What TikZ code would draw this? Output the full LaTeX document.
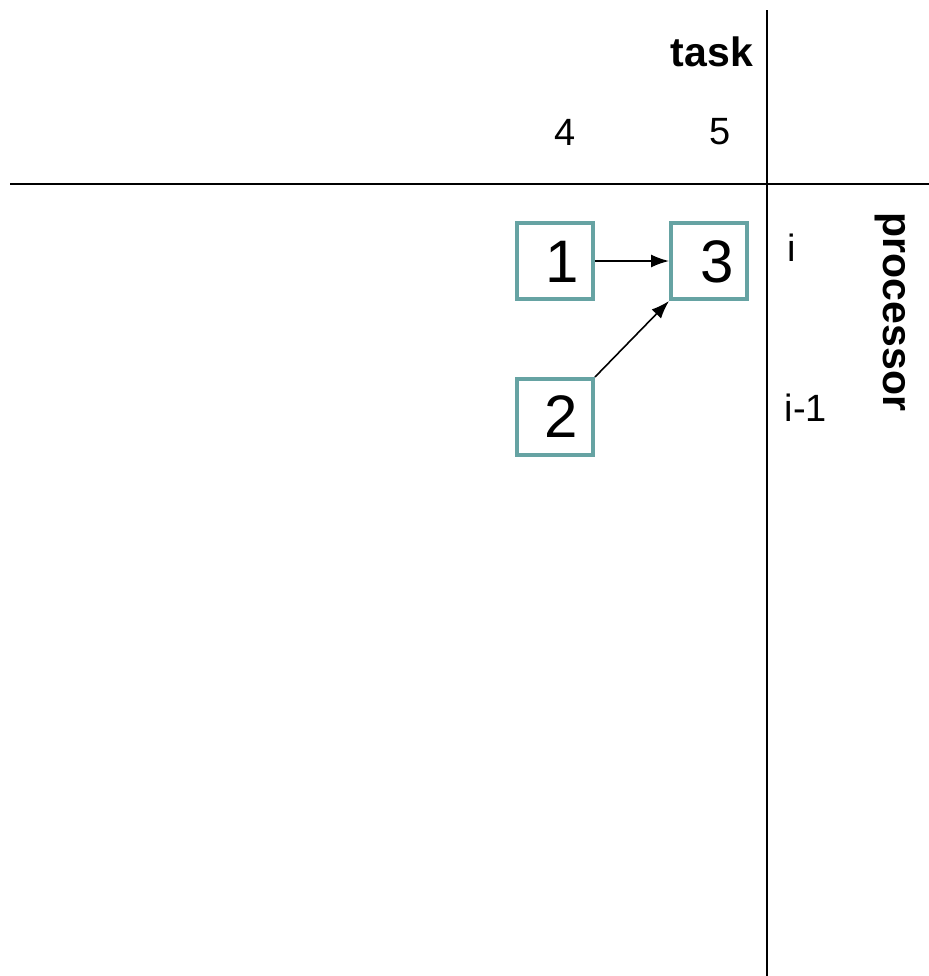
\documentclass[tikz,border=0pt]{standalone}
\usepackage{fontspec}
\setmainfont{Liberation Sans}
\usetikzlibrary{arrows.meta}
\definecolor{boxteal}{HTML}{66A3A3}
\begin{document}
\begin{tikzpicture}[x=0.5pt,y=-0.5pt,
  taskbox/.style={draw=boxteal,line width=2pt,minimum width=38pt,minimum height=38pt,inner sep=0pt},
  boxnum/.style={font=\fontsize{30}{30}\selectfont},
  axislabel/.style={font=\fontsize{19}{19}\selectfont},
  axistitle/.style={font=\bfseries\fontsize{20.5}{20.5}\selectfont},
  dep/.style={line width=0.8pt,-{Latex[length=9pt,width=6.5pt]}},
  axis/.style={line width=1.2pt}]
\useasboundingbox (0,0) rectangle (929,976);
% axes
\coordinate (vtop) at (767,10);
\coordinate (vbot) at (767,976);
\coordinate (hleft) at (10,184);
\coordinate (hright) at (929,184);
\draw[axis] (vtop) -- (vbot);
\draw[axis] (hleft) -- (hright);
% axis labels
\node[axistitle,anchor=east] (task) at (760,52) {task};
\node[axislabel] (t4) at (565,132) {4};
\node[axislabel] (t5) at (720,132) {5};
\node[axislabel] (pi) at (792,248) {i};
\node[axislabel] (pim) at (806,408) {i-1};
\node[axistitle,rotate=-90] (proc) at (890,312) {processor};
% task boxes
\node[taskbox] (b1) at (555,261) {};
\node[taskbox] (b3) at (709,261) {};
\node[taskbox] (b2) at (555,417) {};
\node[boxnum] (n1) at (562,262) {1};
\node[boxnum] (n3) at (717,262) {3};
\node[boxnum] (n2) at (561,417) {2};
% dependencies
\draw[dep] (b1.east) -- (b3.west);
\draw[dep] (b2.north east) -- (b3.south west);
\end{tikzpicture}
\end{document}
